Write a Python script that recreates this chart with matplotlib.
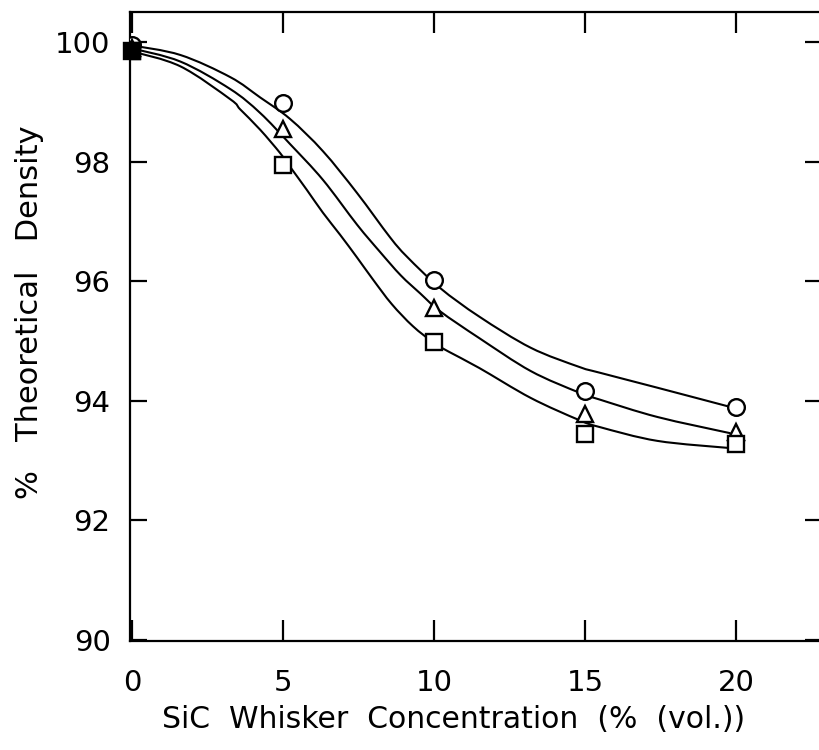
import matplotlib
matplotlib.use("Agg")
import matplotlib.pyplot as plt
from matplotlib.path import Path
from matplotlib.patches import PathPatch

plt.rcParams['font.family'] = ['DejaVu Sans']

# measured points
x_pts = [0, 5, 10, 15, 20]
circle_y = [99.95, 98.98, 96.03, 94.17, 93.90]
triangle_y = [99.90, 98.55, 95.56, 93.78, 93.48]
square_y = [99.85, 97.95, 94.99, 93.45, 93.28]

# fitted curves
circle_cx = [0, 1.6, 3.25, 4.24, 5.23, 6.32, 7.45, 8.54, 9.11, 10.2, 11.5, 13.2, 14.8, 15.5, 17.4, 19.8]
circle_cy = [99.95, 99.79, 99.42, 99.08, 98.72, 98.18, 97.48, 96.74, 96.41, 95.89, 95.41, 94.89, 94.57, 94.47, 94.22, 93.90]

triangle_cx = [0, 1.6, 3.25, 4.24, 5.23, 6.32, 7.45, 8.2, 8.9, 9.54, 10.2, 11.5, 13.2, 14.8, 15.5, 17.4, 19.8]
triangle_cy = [99.90, 99.68, 99.22, 98.82, 98.30, 97.70, 96.95, 96.50, 96.10, 95.80, 95.50, 95.05, 94.50, 94.14, 94.02, 93.73, 93.46]

square_cx = [0, 1.6, 3.25, 3.58, 4.24, 4.90, 5.23, 5.79, 6.32, 6.89, 7.45, 7.98, 8.6, 9.3, 10.0, 10.5, 11.5, 13.2, 14.8, 15.5, 17.4, 19.8]
square_cy = [99.85, 99.60, 99.05, 98.88, 98.54, 98.15, 97.92, 97.53, 97.15, 96.78, 96.40, 96.03, 95.62, 95.25, 94.97, 94.82, 94.55, 94.05, 93.68, 93.56, 93.33, 93.21]

x_ticks = [0, 5, 10, 15, 20]
y_ticks = [90, 92, 94, 96, 98, 100]


def smooth_path(ax, xs, ys):
    """Catmull-Rom through the sampled points, drawn as cubic Bezier segments in pixel space."""
    pts = ax.transData.transform(list(zip(xs, ys)))
    n = len(pts)
    verts = [tuple(pts[0])]
    codes = [Path.MOVETO]
    for i in range(n - 1):
        p0 = pts[i - 1] if i > 0 else pts[i]
        p1 = pts[i]
        p2 = pts[i + 1]
        p3 = pts[i + 2] if i + 2 < n else pts[i + 1]
        c1 = p1 + (p2 - p0) / 6.0
        c2 = p2 - (p3 - p1) / 6.0
        verts += [tuple(c1), tuple(c2), tuple(p2)]
        codes += [Path.CURVE4] * 3
    return Path(verts, codes)


fig = plt.figure(figsize=(8.19, 7.5), dpi=100)
ax = fig.add_axes([130/819, (750-641)/750, (822-130)/819, (641-12)/750])

ax.set_xlim(-0.07, 22.85)
ax.set_ylim(89.98, 100.51)

lw = 1.5
for cx, cy in ((circle_cx, circle_cy), (triangle_cx, triangle_cy), (square_cx, square_cy)):
    p = smooth_path(ax, cx, cy)
    patch = PathPatch(p, facecolor='none', edgecolor='black', lw=lw,
                      transform=None, zorder=2, capstyle='round', joinstyle='round')
    patch.set_clip_path(ax.patch)
    ax.add_artist(patch)

mew = 1.7
ax.plot(x_pts, circle_y, 'o', ms=12, mfc='white', mec='black', mew=mew, zorder=3)
ax.plot(x_pts, triangle_y, '^', ms=12, mfc='white', mec='black', mew=mew, zorder=4)
ax.plot(x_pts, square_y, 's', ms=12, mfc='white', mec='black', mew=mew, zorder=5)
# overlapping points at zero appear as a solid blob
ax.plot(x_pts[0], square_y[0], 's', ms=12, mfc='black', mec='black', mew=mew, zorder=6, clip_on=False)

ax.set_xticks(x_ticks)
ax.set_yticks(y_ticks)
ax.set_xticklabels([str(v) for v in x_ticks])
ax.set_yticklabels([str(v) for v in y_ticks])

for s in ax.spines.values():
    s.set_linewidth(1.6)

ax.tick_params(axis='x', which='both', direction='in', length=15, width=1.6,
               top=True, labelsize=21, pad=20)
ax.tick_params(axis='y', which='both', direction='in', length=12, width=1.6,
               right=True, labelsize=21, pad=14)

ax.set_xlabel('SiC  Whisker  Concentration  (%  (vol.))', fontsize=21.5)
ax.xaxis.set_label_coords((454 - 130) / 692, (641 - 705) / 629)
ax.set_ylabel('%   Theoretical   Density', fontsize=22)
ax.yaxis.set_label_coords((44 - 130) / 692, (641 - 312) / 629)

fig.savefig('out.png', dpi=100)
